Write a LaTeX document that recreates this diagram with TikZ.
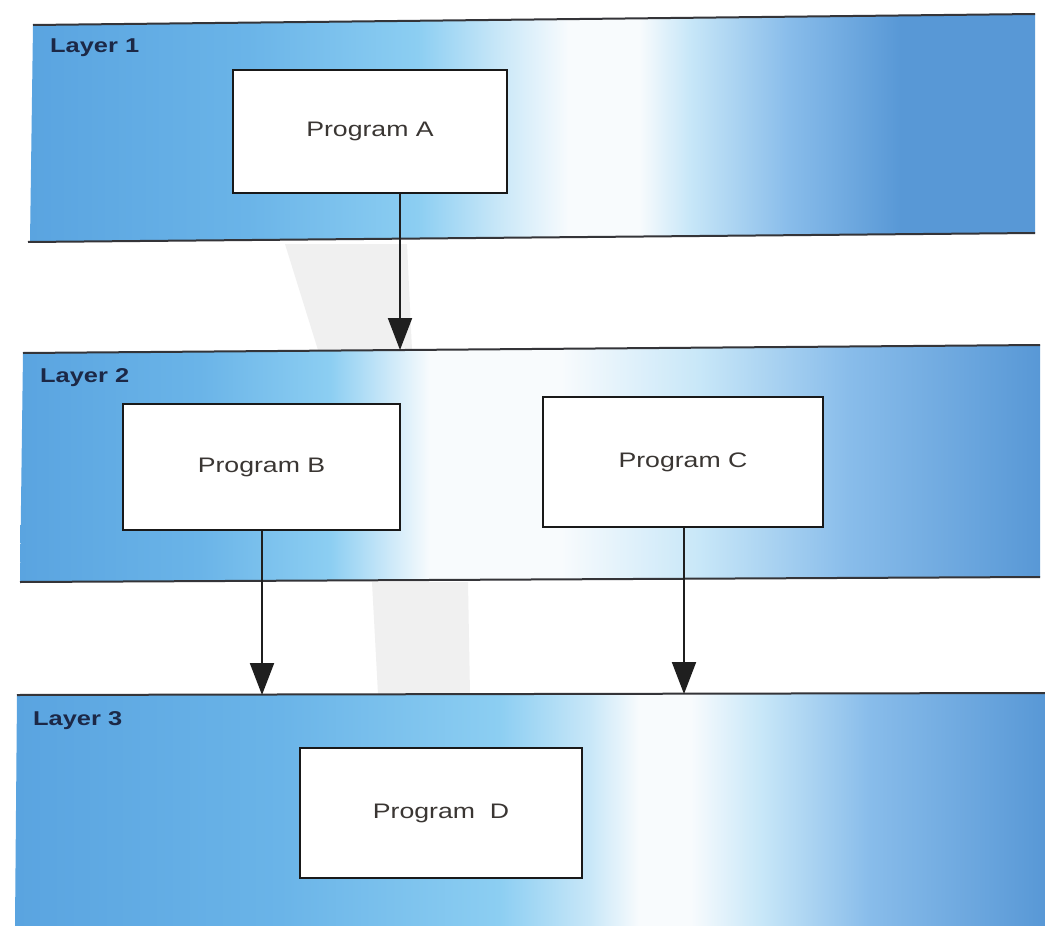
\documentclass[tikz,border=0pt]{standalone}
\usepackage{fontspec}
\setmainfont{Liberation Sans}
\newfontfamily\widesans[FakeStretch=1.27]{Liberation Sans}
\usetikzlibrary{arrows.meta}

% colours of the layer bands
\definecolor{bandblue}{RGB}{90,164,224}
\definecolor{bandblue2}{RGB}{106,180,232}
\definecolor{bandsky}{RGB}{140,206,242}
\definecolor{bandpale}{RGB}{200,231,248}
\definecolor{bandwhite}{RGB}{248,251,253}
\definecolor{bandmid}{RGB}{136,188,234}
\definecolor{bandright}{RGB}{88,152,214}
\definecolor{edgeline}{RGB}{52,52,56}
\definecolor{boxtext}{RGB}{58,54,51}
\definecolor{labeltext}{RGB}{28,40,70}
\definecolor{haze}{RGB}{240,240,240}

% horizontal colour runs of the three bands (25bp..75bp span the band)
\pgfdeclarehorizontalshading{bandone}{100bp}{%
  color(0bp)=(bandblue); color(25bp)=(bandblue); color(35.8bp)=(bandblue2);
  color(44.3bp)=(bandsky); color(48.3bp)=(bandpale); color(51.8bp)=(bandwhite);
  color(55.3bp)=(bandwhite); color(57.8bp)=(bandpale); color(62.8bp)=(bandmid);
  color(68.3bp)=(bandright); color(75bp)=(bandright); color(100bp)=(bandright)}
\pgfdeclarehorizontalshading{bandtwo}{100bp}{%
  color(0bp)=(bandblue); color(25bp)=(bandblue); color(33.8bp)=(bandblue2);
  color(40.2bp)=(bandsky); color(45.1bp)=(bandwhite); color(51.5bp)=(bandwhite);
  color(58.3bp)=(bandpale); color(65.7bp)=(bandmid); color(75bp)=(bandright);
  color(100bp)=(bandright)}
\pgfdeclarehorizontalshading{bandthree}{100bp}{%
  color(0bp)=(bandblue); color(25bp)=(bandblue); color(37.9bp)=(bandblue2);
  color(48.5bp)=(bandsky); color(52.9bp)=(bandpale); color(55.3bp)=(bandwhite);
  color(57.8bp)=(bandwhite); color(61.2bp)=(bandpale); color(66.5bp)=(bandmid);
  color(75bp)=(bandright); color(100bp)=(bandright)}

\tikzset{
  edge/.style={draw=edgeline, line width=2pt},
  prog/.style={draw=black!90, line width=2.5pt, fill=white, inner sep=0pt,
    text=boxtext, font=\widesans\fontsize{21}{25}\selectfont},
  layerlabel/.style={anchor=base west, inner sep=0pt, text=labeltext,
    font=\widesans\bfseries\fontsize{20}{24}\selectfont},
  flow/.style={draw=black!88, line width=2pt,
    -{Triangle[length=32pt,width=24pt]}},
}

\begin{document}
\begin{tikzpicture}[x=1pt, y=-1pt]
\useasboundingbox[fill=white] (0,0) rectangle (1045,926);

% faint streaks in the gaps between the bands
\fill[haze] (285,244) -- (407,244) -- (412,350) -- (318,350) -- cycle;
\fill[haze] (372,582) -- (468,582) -- (470,694) -- (378,694) -- cycle;

% layer bands
\shade[shading=bandone]   (33,25) -- (1035,14) -- (1035,233) -- (30,242) -- cycle;
\shade[shading=bandtwo]   (23,353) -- (1040,345) -- (1040,577) -- (20,582) -- cycle;
\shade[shading=bandthree] (17,695) -- (1045,693) -- (1045,926) -- (15,926) -- cycle;

\draw[edge] (33,25) -- (1035,14);
\draw[edge] (28,242) -- (1035,233);
\draw[edge] (23,353) -- (1040,345);
\draw[edge] (20,582) -- (1040,577);
\draw[edge] (17,695) -- (1045,693);

% layer names
\node[layerlabel] (l1) at (50,52)  {Layer 1};
\node[layerlabel] (l2) at (40,382) {Layer 2};
\node[layerlabel] (l3) at (33,725) {Layer 3};

% programs
\node[prog, minimum width=274pt, minimum height=123pt] (A) at (370,131.5) {Program A};
\node[prog, minimum width=277pt, minimum height=126pt] (B) at (261.5,467) {Program B};
\node[prog, minimum width=280pt, minimum height=130pt] (C) at (683,462)   {Program C};
\node[prog, minimum width=282pt, minimum height=130pt] (D) at (441,813)   {Program~~D};

% ends of the calls on the top edges of the lower bands
\coordinate (toB) at (400,350);
\coordinate (fromB) at (262,695);
\coordinate (fromC) at (684,694);

\draw[flow] (A.south -| toB) -- (toB);
\draw[flow] (B.south -| fromB) -- (fromB);
\draw[flow] (C.south -| fromC) -- (fromC);
\end{tikzpicture}
\end{document}
